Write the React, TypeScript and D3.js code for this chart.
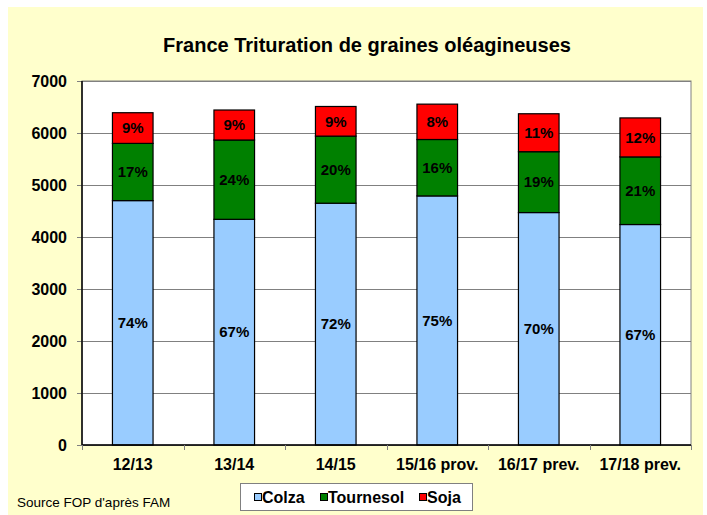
import React from 'react';
import * as d3 from 'd3';

const categories = ['12/13', '13/14', '14/15', '15/16 prov.', '16/17 prev.', '17/18 prev.'];
const colza = [4700, 4340, 4650, 4790, 4470, 4240];
const tournesol = [1100, 1525, 1290, 1085, 1170, 1300];
const soja = [590, 577, 570, 680, 730, 750];
const colzaPct = ['74%', '67%', '72%', '75%', '70%', '67%'];
const tournesolPct = ['17%', '24%', '20%', '16%', '19%', '21%'];
const sojaPct = ['9%', '9%', '9%', '8%', '11%', '12%'];
const yTicks = [0, 1000, 2000, 3000, 4000, 5000, 6000, 7000];

const seriesNames = ['Colza', 'Tournesol', 'Soja'];
const seriesColors = ['#99CCFF', '#008000', '#FF0000'];
const seriesPct = [colzaPct, tournesolPct, sojaPct];

const W = 707;
const H = 515;
const plot = { left: 82, right: 691, top: 81, bottom: 445 };
const font = '"Liberation Sans", Arial, Helvetica, sans-serif';

const App = () => {
    const rows = categories.map((c, i) => ({ cat: c, Colza: colza[i], Tournesol: tournesol[i], Soja: soja[i] }));
    const stacked = d3.stack<any>().keys(seriesNames)(rows);

    const x = d3.scaleBand()
        .domain(categories)
        .range([plot.left, plot.right])
        .paddingInner(0.6)
        .paddingOuter(0.3);

    const y = d3.scaleLinear()
        .domain([0, 7000])
        .range([plot.bottom, plot.top]);

    const step = x.step();
    const boundaries = d3.range(categories.length + 1).map(i => plot.left + i * step);

    // legend layout
    const legendItems = [
        { name: 'Colza', sq: 254, tx: 262 },
        { name: 'Tournesol', sq: 320, tx: 328 },
        { name: 'Soja', sq: 419, tx: 427 },
    ];

    return (
        <svg width={W} height={H} style={{ position: 'absolute', left: 0, top: 0 }} fontFamily={font}>
            <rect x={0} y={0} width={W} height={H} fill="#ffffff" />
            <rect x={8} y={7} width={695} height={H - 7} fill="#FFFFCC" />

            <text x={367} y={52} textAnchor="middle" fontSize={20} fontWeight="bold" fill="#000">
                France Trituration de graines oléagineuses
            </text>

            {/* plot area */}
            <rect x={plot.left} y={plot.top} width={plot.right - plot.left} height={plot.bottom - plot.top}
                fill="#ffffff" stroke="#808080" strokeWidth={1} />

            {/* gridlines */}
            {yTicks.map(t => (
                <line key={'g' + t} x1={plot.left} x2={plot.right} y1={Math.round(y(t)) + 0.5} y2={Math.round(y(t)) + 0.5}
                    stroke="#808080" strokeWidth={1} />
            ))}

            {/* y axis */}
            {yTicks.map(t => (
                <g key={'y' + t}>
                    <line x1={plot.left - 5} x2={plot.left} y1={Math.round(y(t)) + 0.5} y2={Math.round(y(t)) + 0.5}
                        stroke="#808080" />
                    <text x={67} y={y(t)} dy="0.35em" textAnchor="end" fontSize={16} fontWeight="bold">{t}</text>
                </g>
            ))}

            {/* bars */}
            {stacked.map((layer, si) => (
                <g key={layer.key}>
                    {layer.map((d, i) => (
                        <rect key={i} x={x(categories[i])} y={y(d[1])} width={x.bandwidth()} height={y(d[0]) - y(d[1])}
                            fill={seriesColors[si]} stroke="#000" strokeWidth={1.2} />
                    ))}
                </g>
            ))}

            {/* segment labels */}
            {stacked.map((layer, si) => (
                <g key={'l' + layer.key}>
                    {layer.map((d, i) => (
                        <text key={i} x={(x(categories[i]) as number) + x.bandwidth() / 2} y={(y(d[0]) + y(d[1])) / 2}
                            dy="0.35em" textAnchor="middle" fontSize={15} fontWeight="bold">
                            {seriesPct[si][i]}
                        </text>
                    ))}
                </g>
            ))}

            {/* x axis */}
            <line x1={plot.left} x2={plot.left} y1={plot.top} y2={plot.bottom} stroke="#000" strokeWidth={1.5} />
            <line x1={plot.left} x2={plot.right} y1={plot.bottom} y2={plot.bottom} stroke="#000" strokeWidth={1.5} />
            {boundaries.map((b, i) => (
                <line key={'xt' + i} x1={Math.round(b) + 0.5} x2={Math.round(b) + 0.5} y1={plot.bottom} y2={plot.bottom + 5}
                    stroke="#808080" />
            ))}
            {categories.map(c => (
                <text key={'xl' + c} x={(x(c) as number) + x.bandwidth() / 2} y={470} textAnchor="middle"
                    fontSize={16} fontWeight="bold">{c}</text>
            ))}

            {/* legend */}
            <rect x={240.5} y={483.5} width={232} height={27} fill="#ffffff" stroke="#808080" />
            {legendItems.map((l, i) => (
                <g key={l.name}>
                    <rect x={l.sq + 0.5} y={493.5} width={7} height={7} fill={seriesColors[i]} stroke="#000" />
                    <text x={l.tx} y={497.5} dy="0.35em" fontSize={16} fontWeight="bold">{l.name}</text>
                </g>
            ))}

            <text x={17} y={502} dy="0.35em" fontSize={13.5}>Source FOP d'après FAM</text>
        </svg>
    );
};

export default App;
